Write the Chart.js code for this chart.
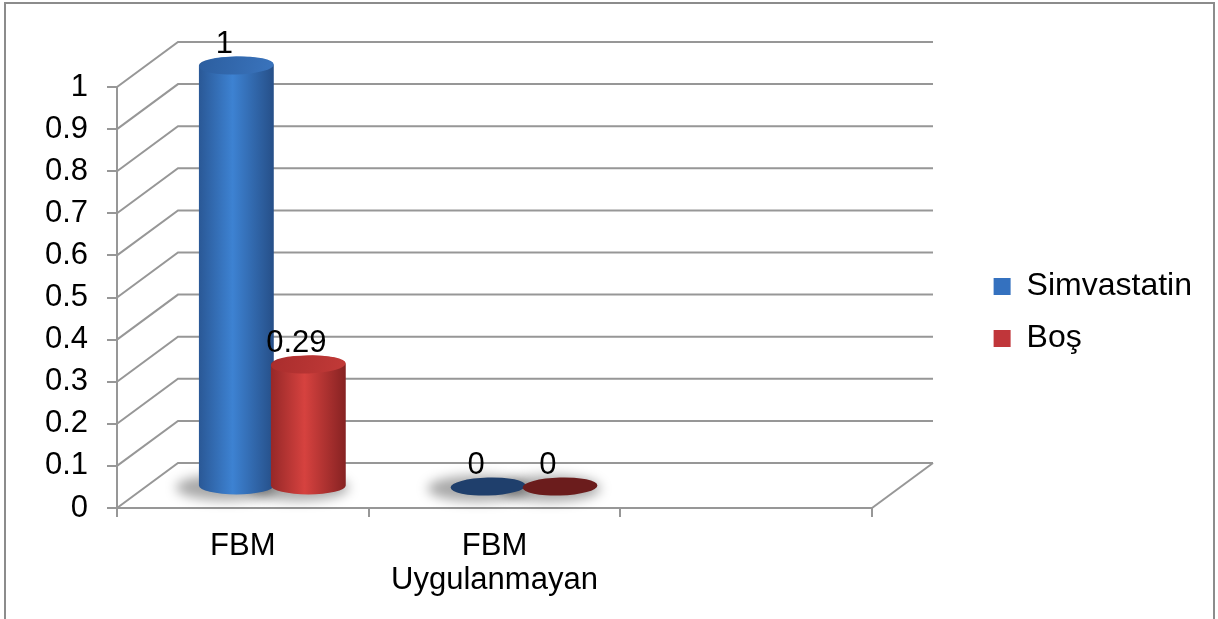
<!DOCTYPE html>
<html>
<head>
<meta charset="utf-8">
<script src="https://cdn.jsdelivr.net/npm/chart.js@4/dist/chart.umd.min.js"></script>
<style>
  html, body { margin: 0; padding: 0; background: #ffffff; }
  #wrap { width: 1218px; height: 619px; position: relative; }
</style>
</head>
<body>
<div id="wrap"><canvas id="c" width="1218" height="619"></canvas></div>
<script>
// ---- data ----
const categories = [['FBM'], ['FBM', 'Uygulanmayan'], ''];
const seriesNames = ['Simvastatin', 'Boş'];
const simvastatin = [1, 0, null];
const bos = [0.29, 0, null];
const yTickValues = [0, 0.1, 0.2, 0.3, 0.4, 0.5, 0.6, 0.7, 0.8, 0.9, 1];
const yTickLabels = ['0', '0.1', '0.2', '0.3', '0.4', '0.5', '0.6', '0.7', '0.8', '0.9', '1'];

// ---- styling ----
const FONT = "'Liberation Sans', Arial, sans-serif";
const GRID = '#979797';
const DX = 61, DY = -45;      // depth of the 3D box
const SX = 29.5, SY = -21.5;  // cylinders sit in the middle of the depth
const palettes = [
  { legend: '#3471bf', edgeL: '#2a5896', hi: '#3d82d2', edgeR: '#264f88', top1: '#2c5e9f', top2: '#3a74bd', flat: '#1f3f6c' },
  { legend: '#c0363a', edgeL: '#962828', hi: '#d6423f', edgeR: '#862222', top1: '#a92d2d', top2: '#c23a38', flat: '#6b1c1c' }
];

Chart.defaults.font.family = FONT;

function drawCylinder(ctx, cx, top, bottom, rx, ry, pal) {
  if (bottom - top < 0.5) {
    ctx.beginPath();
    ctx.ellipse(cx, bottom, rx, ry, -0.03, 0, Math.PI * 2);
    ctx.fillStyle = pal.flat;
    ctx.fill();
    return;
  }
  const g = ctx.createLinearGradient(cx - rx, 0, cx + rx, 0);
  g.addColorStop(0, pal.edgeL);
  g.addColorStop(0.45, pal.hi);
  g.addColorStop(1, pal.edgeR);
  ctx.beginPath();
  ctx.moveTo(cx - rx, top);
  ctx.lineTo(cx - rx, bottom);
  ctx.ellipse(cx, bottom, rx, ry, 0, Math.PI, 0, true);
  ctx.lineTo(cx + rx, top);
  ctx.ellipse(cx, top, rx, ry, 0, 0, Math.PI, true);
  ctx.closePath();
  ctx.fillStyle = g;
  ctx.fill();
  const tg = ctx.createLinearGradient(cx - rx, top - ry, cx + rx, top + ry);
  tg.addColorStop(0, pal.top1);
  tg.addColorStop(1, pal.top2);
  ctx.beginPath();
  ctx.ellipse(cx, top, rx, ry, -0.03, 0, Math.PI * 2);
  ctx.fillStyle = tg;
  ctx.fill();
}

const threeD = {
  id: 'threeD',
  beforeDraw(chart) {
    const c = chart.ctx;
    c.save();
    c.fillStyle = '#ffffff';
    c.fillRect(0, 0, chart.width, chart.height);
    c.strokeStyle = '#8c8c8c';
    c.lineWidth = 2;
    c.strokeRect(5, 3, 1209, 640);
    c.restore();
  },
  beforeDatasetsDraw(chart) {
    const { ctx, chartArea: a, scales: { y } } = chart;
    ctx.save();
    // walls & floor
    ctx.strokeStyle = GRID;
    ctx.lineWidth = 2;
    y.ticks.forEach(t => {
      const py = y.getPixelForValue(t.value);
      ctx.beginPath();
      ctx.moveTo(a.left, py);
      ctx.lineTo(a.left + DX, py + DY);
      ctx.lineTo(a.right + DX, py + DY);
      ctx.stroke();
    });
    const y0 = y.getPixelForValue(0);
    ctx.beginPath();
    ctx.moveTo(a.right, y0);
    ctx.lineTo(a.right + DX, y0 + DY);
    ctx.stroke();

    const metas = chart.data.datasets.map((d, i) => chart.getDatasetMeta(i));
    const ry = 9;
    // shadows
    ctx.save();
    ctx.filter = 'blur(6px)';
    ctx.fillStyle = 'rgba(0,0,0,0.34)';
    metas.forEach(m => m.data.forEach((bar, j) => {
      const v = chart.data.datasets[m.index].data[j];
      if (v === null || v === undefined) return;
      const cx = bar.x + SX, bottom = bar.base + SY;
      ctx.beginPath();
      ctx.ellipse(cx - 10, bottom + 2, bar.width / 2 + 13, ry + 4, 0, 0, Math.PI * 2);
      ctx.fill();
    }));
    ctx.restore();
    // cylinders, category by category
    const nCat = chart.data.labels.length;
    for (let j = 0; j < nCat; j++) {
      metas.forEach((m, i) => {
        const v = chart.data.datasets[i].data[j];
        if (v === null || v === undefined) return;
        const bar = m.data[j];
        drawCylinder(ctx, bar.x + SX, bar.y + SY, bar.base + SY, bar.width / 2, ry, palettes[i]);
      });
    }
    // value labels
    ctx.fillStyle = '#000000';
    ctx.font = '31px ' + FONT;
    ctx.textAlign = 'center';
    ctx.textBaseline = 'middle';
    metas.forEach((m, i) => m.data.forEach((bar, j) => {
      const v = chart.data.datasets[i].data[j];
      if (v === null || v === undefined) return;
      ctx.fillText(String(v), bar.x + SX - 12, bar.y + SY - 21);
    }));
    ctx.restore();
    return false;
  }
};

new Chart(document.getElementById('c'), {
  type: 'bar',
  data: {
    labels: categories,
    datasets: [
      { label: seriesNames[0], data: simvastatin, backgroundColor: palettes[0].legend, borderWidth: 0,
        categoryPercentage: 0.572, barPercentage: 1.04 },
      { label: seriesNames[1], data: bos, backgroundColor: palettes[1].legend, borderWidth: 0,
        categoryPercentage: 0.572, barPercentage: 1.04 }
    ]
  },
  options: {
    responsive: false,
    animation: false,
    devicePixelRatio: 1,
    layout: { padding: { top: 6, right: 16, bottom: 0, left: 0 } },
    plugins: {
      tooltip: { enabled: false },
      legend: {
        position: 'right',
        align: 'center',
        maxWidth: 400,
        labels: {
          font: { size: 32, family: FONT },
          color: '#000000',
          boxWidth: 17,
          boxHeight: 17,
          padding: 20
        }
      }
    },
    scales: {
      x: {
        type: 'category',
        grid: { display: true, drawOnChartArea: false, drawTicks: true, tickLength: 9, color: GRID, lineWidth: 2, offset: true },
        border: { display: true, color: GRID, width: 2 },
        ticks: { font: { size: 31, family: FONT, lineHeight: 1.1 }, color: '#000000', padding: 12, maxRotation: 0, autoSkip: false },
        afterFit: s => { s.height = 111; }
      },
      y: {
        min: 0,
        max: 1,
        afterBuildTicks: s => { s.ticks = yTickValues.map(v => ({ value: v })); },
        ticks: { font: { size: 31, family: FONT }, color: '#000000', padding: 19,
          callback: (v, i) => yTickLabels[i] },
        grid: { display: true, drawOnChartArea: false, drawTicks: true, tickLength: 10, color: GRID, lineWidth: 2 },
        border: { display: true, color: GRID, width: 2 },
        afterFit: s => { s.width = 117; }
      },
      yr: {
        type: 'linear',
        axis: 'y',
        position: 'right',
        display: true,
        grid: { display: false },
        ticks: { display: false },
        border: { display: false },
        afterFit: s => { s.width = Math.max(0, s.chart.width - 16 - s.chart.legend.width - 872); }
      },
      xt: {
        type: 'linear',
        axis: 'x',
        position: 'top',
        display: true,
        grid: { display: false },
        ticks: { display: false },
        border: { display: false },
        afterFit: s => { s.height = 81; }
      }
    }
  },
  plugins: [threeD]
});
</script>
</body>
</html>
